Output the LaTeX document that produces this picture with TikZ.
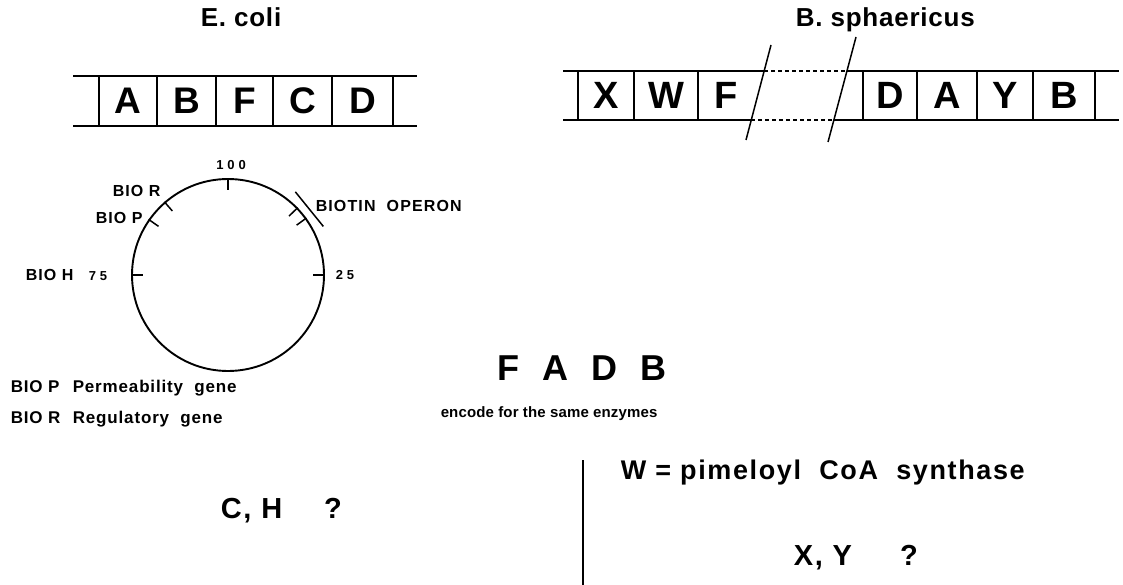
\documentclass[tikz,border=0pt]{standalone}
\usepackage{fontspec}
\setmainfont{Liberation Sans}
\usetikzlibrary{positioning, calc}

% font sizes, given in px of the final picture
\newcommand{\fs}[2]{\fontsize{#1}{#1}\selectfont\addfontfeature{LetterSpace=#2}}

\begin{document}
\begin{tikzpicture}[x=1pt, y=-1pt, line width=1.5pt,
    every node/.style={font=\bfseries, inner sep=0pt},
    gene/.style={draw, minimum height=50pt, font=\bfseries\fs{37}{0}},
    bgene/.style={draw, minimum height=49pt, font=\bfseries\fs{38}{0}},
    title/.style={anchor=base, font=\bfseries\fs{26}{3}},
    maplbl/.style={anchor=base west, font=\bfseries\fs{16}{7}},
    mapnum/.style={anchor=base west, font=\bfseries\fs{13}{30}},
    keylbl/.style={anchor=base west, font=\bfseries\fs{17}{5}},
    big/.style={anchor=base west, font=\bfseries\fs{29}{6}},
    broken/.style={dashed, dash pattern=on 4pt off 3pt}]
    \useasboundingbox (0,0) rectangle (1123,585);

    % Titles
    \node (tEc) [title] at (241,27) {E. coli};
    \node (tBs) [title, anchor=base west] at (795,27) {B. sphaericus};

    % E. coli gene cluster
    \node (ecA) [gene, minimum width=58pt] at (128,101) {A};
    \node (ecB) [gene, minimum width=59pt] at (186.5,101) {B};
    \node (ecF) [gene, minimum width=57pt] at (244.5,101) {F};
    \node (ecC) [gene, minimum width=59pt] at (302.5,101) {C};
    \node (ecD) [gene, minimum width=61pt] at (362.5,101) {D};
    \coordinate (ecTL) at (73,76);
    \coordinate (ecTR) at (417,76);
    \coordinate (ecBL) at (73,126);
    \coordinate (ecBR) at (417,126);
    \draw (ecTL) -- (ecTR);
    \draw (ecBL) -- (ecBR);

    % B. sphaericus gene cluster
    \node (bsX) [bgene, minimum width=56pt] at (606,95.5) {X};
    \node (bsW) [bgene, minimum width=64pt] at (666,95.5) {W};
    \node (bsF) [font=\bfseries\fs{38}{0}] at (726,95.5) {F};
    \node (bsD) [bgene, minimum width=54pt] at (890,95.5) {D};
    \node (bsA) [bgene, minimum width=60pt] at (947,95.5) {A};
    \node (bsY) [bgene, minimum width=56pt] at (1005,95.5) {Y};
    \node (bsB) [bgene, minimum width=62pt] at (1064,95.5) {B};
    \coordinate (bsTL) at (563,71);
    \coordinate (bsT1) at (764,71);
    \coordinate (bsT2) at (847,71);
    \coordinate (bsTR) at (1119,71);
    \coordinate (bsBL) at (563,120);
    \coordinate (bsB1) at (751,120);
    \coordinate (bsB2) at (834,120);
    \coordinate (bsBR) at (1119,120);
    \draw (bsTL) -- (bsT1);
    \draw[broken] (bsT1) -- (bsT2);
    \draw (bsT2) -- (bsTR);
    \draw (bsBL) -- (bsB1);
    \draw[broken] (bsB1) -- (bsB2);
    \draw (bsB2) -- (bsBR);
    % break marks
    \coordinate (cut1a) at (771,45);
    \coordinate (cut1b) at (746,140);
    \coordinate (cut2a) at (856,37);
    \coordinate (cut2b) at (828,142);
    \draw (cut1a) -- (cut1b);
    \draw (cut2a) -- (cut2b);

    % Chromosome map
    \node (chrom) [draw, circle, line width=1.9pt, minimum size=192pt] at (228,275) {};
    \foreach \a in {90, 0, 180, 131, 145, 44, 36}
        \draw (chrom.\a) -- ($(chrom.center)!0.875!(chrom.\a)$);
    \coordinate (opA) at ($(chrom.center)+(51:107pt)$);
    \coordinate (opB) at ($(chrom.center)+(27:107pt)$);
    \draw (opA) -- (opB);

    \node (m100) [mapnum, anchor=base] at (231,170) {100};
    \node (m25) [mapnum] at (335,279) {25};
    \node (m75) [mapnum] at (88,280) {75};
    \node (lbR) [maplbl] at (112,197) {BIO R};
    \node (lbP) [maplbl] at (95,224) {BIO P};
    \node (lbH) [maplbl] at (25,280) {BIO H};
    \node (lbOp) [maplbl] at (315,212) {BIOTIN\ \ OPERON};

    % Key
    \node (kP) [keylbl] at (10,392) {BIO P};
    \node (kPtxt) [keylbl] at (72,392) {Permeability\ \ gene};
    \node (kR) [keylbl] at (10,423) {BIO R};
    \node (kRtxt) [keylbl] at (72,423) {Regulatory\ \ gene};

    % Comparison
    \node (fadb) [anchor=base west, font=\bfseries\fs{36}{4}] at (497,380) {F\ \ A\ \ D\ \ B};
    \node (enc) [anchor=base west, font=\bfseries\fs{15}{1}] at (440,417) {encode for the same enzymes};
    \node (qEc) [big] at (220,518) {C, H\hspace{42pt}?};
    \coordinate (sepT) at (583,460);
    \coordinate (sepB) at (583,585);
    \draw (sepT) -- (sepB);
    \node (wdef) [big, font=\bfseries\fs{27}{6}] at (620,479) {W = pimeloyl\ \ CoA\ \ synthase};
    \node (qBs) [big] at (793,565) {X, Y\hspace{48pt}?};
\end{tikzpicture}
\end{document}
